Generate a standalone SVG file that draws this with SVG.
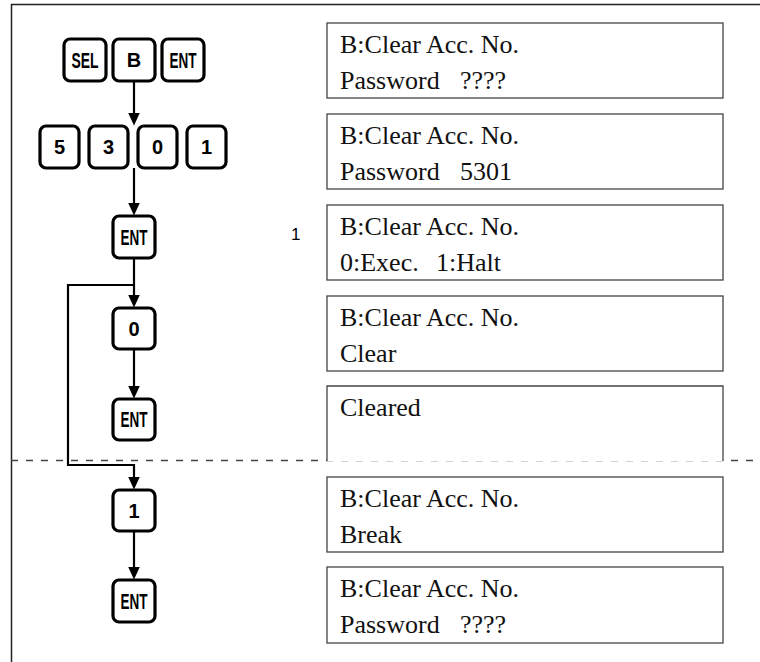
<svg xmlns="http://www.w3.org/2000/svg" width="760" height="662" viewBox="0 0 760 662">
<defs>
<marker id="ah" viewBox="0 0 13 12" refX="0.5" refY="6" markerWidth="13" markerHeight="12" markerUnits="userSpaceOnUse" orient="auto">
<path d="M0,0 L13,6 L0,12 Z" fill="#000"/>
</marker>
<style>
.key{fill:#fff;stroke:#000;stroke-width:3.2}
.kt{font-family:"Liberation Sans",Arial,sans-serif;font-weight:bold;font-size:20px;fill:#000;text-anchor:middle}
.kc{font-family:"Liberation Sans",Arial,sans-serif;font-weight:bold;font-size:22px;fill:#000;text-anchor:middle}
.box{fill:#fff;stroke:#444;stroke-width:1.3}
.dt{font-family:"Liberation Serif","Times New Roman",serif;font-size:26px;fill:#111}
.con{fill:none;stroke:#000;stroke-width:2.2}
.frame{fill:none;stroke:#222;stroke-width:1.5}
</style>
</defs>
<rect width="760" height="662" fill="#fff"/>
<path class="frame" d="M760,4.5 H11.5 V662"/>
<line x1="11" y1="460.5" x2="760" y2="460.5" stroke="#444" stroke-width="1.5" stroke-dasharray="7 8"/>

<g id="connectors">
<line class="con" x1="134" y1="81" x2="134" y2="113" marker-end="url(#ah)"/>
<line class="con" x1="134" y1="168" x2="134" y2="203" marker-end="url(#ah)"/>
<line class="con" x1="134" y1="258" x2="134" y2="295" marker-end="url(#ah)"/>
<path class="con" d="M134,285 H68 V465 H134 V477" marker-end="url(#ah)"/>
<line class="con" x1="134" y1="349" x2="134" y2="386" marker-end="url(#ah)"/>
<line class="con" x1="134" y1="531" x2="134" y2="567" marker-end="url(#ah)"/>
</g>

<g id="key-sel"><rect class="key" x="64" y="39" width="42" height="42" rx="6"/><text class="kc" x="85" y="68" textLength="27" lengthAdjust="spacingAndGlyphs">SEL</text></g>
<g id="key-b"><rect class="key" x="113" y="39" width="42" height="42" rx="6"/><text class="kt" x="134" y="67">B</text></g>
<g id="key-ent-top"><rect class="key" x="162" y="39" width="42" height="42" rx="6"/><text class="kc" x="183" y="68" textLength="27" lengthAdjust="spacingAndGlyphs">ENT</text></g>

<g id="key-5"><rect class="key" x="40" y="126" width="39" height="42" rx="6"/><text class="kt" x="59.5" y="154">5</text></g>
<g id="key-3"><rect class="key" x="89" y="126" width="39" height="42" rx="6"/><text class="kt" x="108.5" y="154">3</text></g>
<g id="key-0a"><rect class="key" x="138" y="126" width="39" height="42" rx="6"/><text class="kt" x="157.5" y="154">0</text></g>
<g id="key-1a"><rect class="key" x="187" y="126" width="39" height="42" rx="6"/><text class="kt" x="206.5" y="154">1</text></g>

<g id="key-ent1"><rect class="key" x="113" y="216" width="42" height="42" rx="6"/><text class="kc" x="134" y="245" textLength="27" lengthAdjust="spacingAndGlyphs">ENT</text></g>
<g id="key-0"><rect class="key" x="113" y="308" width="42" height="41" rx="6"/><text class="kt" x="134" y="336">0</text></g>
<g id="key-ent2"><rect class="key" x="113" y="399" width="42" height="41" rx="6"/><text class="kc" x="134" y="427" textLength="27" lengthAdjust="spacingAndGlyphs">ENT</text></g>
<g id="key-1"><rect class="key" x="113" y="490" width="42" height="41" rx="6"/><text class="kt" x="134" y="518">1</text></g>
<g id="key-ent3"><rect class="key" x="113" y="580" width="42" height="42" rx="6"/><text class="kc" x="134" y="609" textLength="27" lengthAdjust="spacingAndGlyphs">ENT</text></g>

<text id="label-1" x="291" y="240" font-family="Liberation Sans,Arial,sans-serif" font-size="17" fill="#000">1</text>

<g id="disp1"><rect class="box" x="327" y="23" width="396" height="75"/><text class="dt" x="340" y="53">B:Clear Acc. No.</text><text class="dt" x="340" y="89">Password<tspan x="460">????</tspan></text></g>
<g id="disp2"><rect class="box" x="327" y="114" width="396" height="75"/><text class="dt" x="340" y="144">B:Clear Acc. No.</text><text class="dt" x="340" y="180">Password<tspan x="460">5301</tspan></text></g>
<g id="disp3"><rect class="box" x="327" y="205" width="396" height="75"/><text class="dt" x="340" y="235">B:Clear Acc. No.</text><text class="dt" x="340" y="271">0:Exec.<tspan x="436">1:Halt</tspan></text></g>
<g id="disp4"><rect class="box" x="327" y="296" width="396" height="75"/><text class="dt" x="340" y="326">B:Clear Acc. No.</text><text class="dt" x="340" y="362">Clear</text></g>
<g id="disp5"><path class="box" fill="none" d="M327,461 V386 H723 V461"/><text class="dt" x="340" y="416">Cleared</text></g>
<g id="disp6"><rect class="box" x="327" y="477" width="396" height="75"/><text class="dt" x="340" y="507">B:Clear Acc. No.</text><text class="dt" x="340" y="543">Break</text></g>
<g id="disp7"><rect class="box" x="327" y="567" width="396" height="76"/><text class="dt" x="340" y="597">B:Clear Acc. No.</text><text class="dt" x="340" y="633">Password<tspan x="460">????</tspan></text></g>
</svg>
